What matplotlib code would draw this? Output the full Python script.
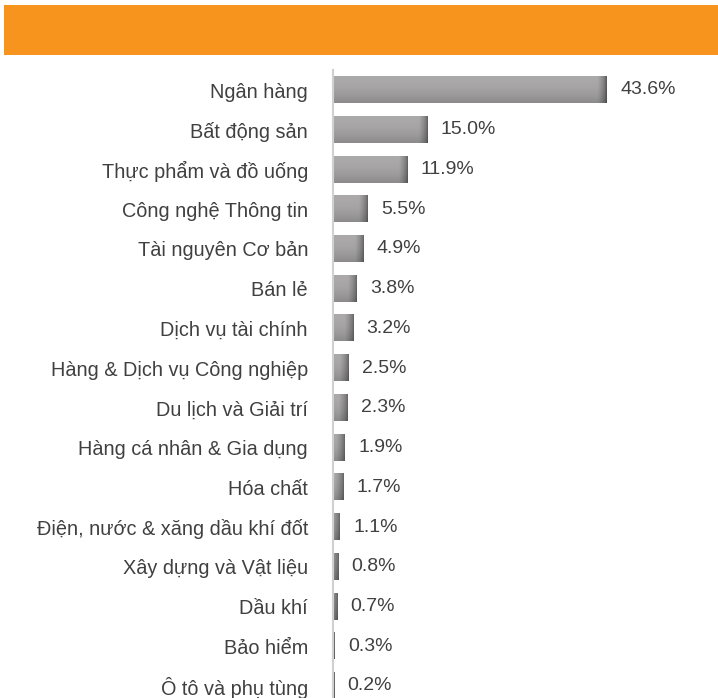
import numpy as np
import matplotlib
matplotlib.use("Agg")
import matplotlib.pyplot as plt
from matplotlib.patches import Rectangle

categories = ["Ngân hàng", "Bất động sản", "Thực phẩm và đồ uống", "Công nghệ Thông tin",
              "Tài nguyên Cơ bản", "Bán lẻ", "Dịch vụ tài chính", "Hàng & Dịch vụ Công nghiệp",
              "Du lịch và Giải trí", "Hàng cá nhân & Gia dụng", "Hóa chất",
              "Điện, nước & xăng dầu khí đốt", "Xây dựng và Vật liệu", "Dầu khí",
              "Bảo hiểm", "Ô tô và phụ tùng"]
values = [43.6, 15.0, 11.9, 5.5, 4.9, 3.8, 3.2, 2.5, 2.3, 1.9, 1.7, 1.1, 0.8, 0.7, 0.3, 0.2]
value_labels = ["43.6%", "15.0%", "11.9%", "5.5%", "4.9%", "3.8%", "3.2%", "2.5%", "2.3%",
                "1.9%", "1.7%", "1.1%", "0.8%", "0.7%", "0.3%", "0.2%"]

plt.rcParams['font.family'] = ['Liberation Sans', 'DejaVu Sans']

W, H = 718, 698
fig = plt.figure(figsize=(W / 100, H / 100), dpi=100)

# orange banner
fig.patches.append(Rectangle((4 / W, 1 - 55 / H), 1 - 4 / W, 50 / H,
                             transform=fig.transFigure, facecolor="#F7941D",
                             edgecolor="none"))

n = len(categories)
px_per_row = 39.73
ax_left = 333 / W
ax_width = (W - 333 - 8) / W
top_px = 90 - px_per_row / 2
height_px = n * px_per_row
ax = fig.add_axes([ax_left, 1 - (top_px + height_px) / H, ax_width, height_px / H])
ax.set_xlim(0, (W - 333 - 8) / 6.28)
ax.set_ylim(n - 0.5, -0.5)

bar_h = 0.66
dark_w = 1.4  # darker right end (data units)
ys = np.arange(n)
for y, v in zip(ys, values):
    ncol = 200
    xs = np.linspace(0, v, ncol)
    d = v - xs
    horiz = np.clip(d / dark_w, 0, 1)  # 0 at end -> 1 inside
    vert = np.linspace(0.0, 1.0, 20)[:, None]
    base = 0.67 - 0.12 * vert ** 2
    img_val = base * (0.55 + 0.45 * horiz[None, :] ** 0.6)
    img = np.dstack([img_val, img_val * 0.99, img_val * 0.99])
    ax.imshow(img, extent=(0, v, y + bar_h / 2, y - bar_h / 2), aspect='auto',
              interpolation='bilinear', zorder=2)

for y, v, lab in zip(ys, values, value_labels):
    ax.annotate(lab, (v, y), xytext=(9.5, 0), textcoords='offset points',
                ha='left', va='center', fontsize=14, color="#404040")

ax.set_yticks(ys)
ax.set_yticklabels(categories, fontsize=14.3, color="#404040")
ax.tick_params(axis='y', length=0, pad=18)
ax.set_xticks([])
for s in ["top", "right", "bottom"]:
    ax.spines[s].set_visible(False)
ax.spines["left"].set_color("#d0d0d0")
ax.spines["left"].set_linewidth(1.5)
ax.spines["left"].set_zorder(3)

fig.savefig("out.png", dpi=100)
